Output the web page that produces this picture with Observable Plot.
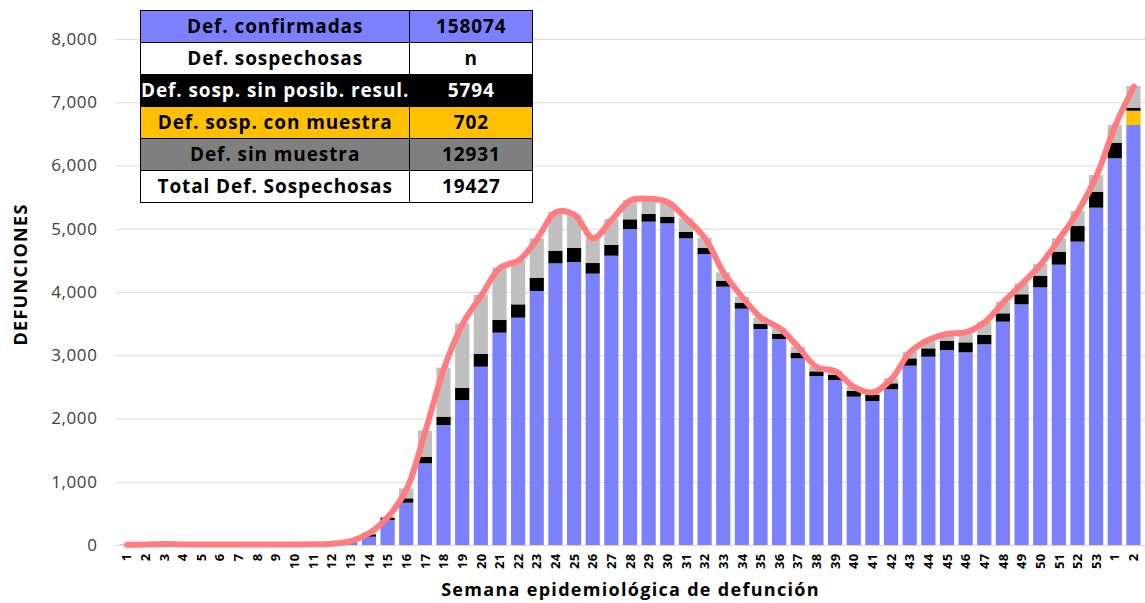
<!DOCTYPE html>
<html>
<head>
<meta charset="utf-8">
<script src="https://cdn.jsdelivr.net/npm/d3@7"></script>
<script src="https://cdn.jsdelivr.net/npm/@observablehq/plot@0.6"></script>
<style>
  html, body { margin: 0; padding: 0; background: #fff; }
  #wrap { position: relative; width: 1145px; height: 603px; font-family: "Open Sans", "DejaVu Sans", sans-serif; }
  #tbl { position: absolute; left: 140px; top: 10px; border-collapse: collapse; font-weight: 700; font-size: 19px; letter-spacing: 0.9px; }
  #tbl td { border: 1.5px solid #000; height: 31px; padding: 0; text-align: center; white-space: nowrap; line-height: 31px; overflow: visible; }
  #tbl td.l { width: 268px; }
  #tbl td.r { width: 122px; }
  g[aria-label="x-axis label"] text { letter-spacing: 1.3px; }
  g[aria-label="y-axis label"] text { letter-spacing: 1.3px; }
  g[aria-label="x-axis tick label"] text { letter-spacing: 0.3px; }
  g[aria-label="y-axis tick label"] text { letter-spacing: 0.6px; }
</style>
</head>
<body>
<div id="wrap"></div>
<script>
// ---- data ----
const weekLabels = ["1","2","3","4","5","6","7","8","9","10","11","12","13","14","15","16","17","18","19","20","21","22","23","24","25","26","27","28","29","30","31","32","33","34","35","36","37","38","39","40","41","42","43","44","45","46","47","48","49","50","51","52","53","1","2"];
const confirmadas = [5,8,12,8,8,8,10,10,10,10,12,18,50,131,395,669,1291,1897,2292,2819,3357,3594,4016,4453,4474,4290,4574,4996,5112,5086,4849,4601,4084,3736,3415,3257,2951,2672,2609,2345,2277,2462,2835,2977,3083,3046,3173,3531,3805,4074,4432,4796,5333,6114,6640];
const conMuestra = [0,0,0,0,0,0,0,0,0,0,0,0,0,0,0,0,0,0,0,0,0,0,0,0,0,0,0,0,0,0,0,0,0,0,0,0,0,0,0,0,0,0,0,0,0,0,0,0,0,0,0,0,0,0,226];
const sinPosibResul = [0,0,0,0,0,0,0,0,0,0,0,2,5,38,37,69,105,132,195,201,200,211,210,200,222,168,169,153,121,105,100,99,95,95,84,84,90,74,84,90,95,94,116,132,147,158,147,132,159,184,206,247,253,247,48];
const sinMuestra = [5,7,10,8,6,6,6,6,6,6,6,8,15,30,23,158,411,775,1018,933,833,701,623,617,530,400,411,306,248,237,216,158,132,95,101,95,95,73,58,68,50,79,105,143,117,169,211,184,173,185,211,238,264,279,343];

const seriesNames = ["Def. confirmadas", "Def. sosp. con muestra", "Def. sosp. sin posib. resul.", "Def. sin muestra"];
const seriesColors = ["#7b80fc", "#ffc000", "#000000", "#bfbfbf"];
const seriesValues = [confirmadas, conMuestra, sinPosibResul, sinMuestra];

const tableLabels = ["Def. confirmadas", "Def. sospechosas", "Def. sosp. sin posib. resul.", "Def. sosp. con  muestra", "Def. sin muestra", "Total Def. Sospechosas"];
const tableValues = ["158074", "n", "5794", "702", "12931", "19427"];
const tableColors = ["#7b80fc", "#ffffff", "#000000", "#ffc000", "#7f7f7f", "#ffffff"];
const tableText = ["#000", "#000", "#fff", "#000", "#000", "#000"];

const yLabel = "DEFUNCIONES";
const xLabel = "Semana epidemiológica de defunción";

// ---- build tidy rows ----
const rows = [];
weekLabels.forEach((w, i) => {
  seriesNames.forEach((s, k) => rows.push({i, serie: s, k, value: seriesValues[k][i]}));
});
const totals = weekLabels.map((w, i) => ({i, total: seriesValues.reduce((a, arr) => a + arr[i], 0)}));
const idx = weekLabels.map((w, i) => i);

const font = '"Open Sans", "DejaVu Sans", sans-serif';

const chart = Plot.plot({
  width: 1145,
  height: 603,
  marginLeft: 115,
  marginRight: 0,
  marginTop: 39,
  marginBottom: 58,
  style: {fontFamily: font, background: "transparent"},
  x: {domain: idx, padding: 0.24, label: null},
  y: {domain: [0, 8000], label: null},
  color: {domain: seriesNames, range: seriesColors},
  marks: [
    Plot.gridY([0,1000,2000,3000,4000,5000,6000,7000,8000], {stroke: "#d9d9d9", strokeOpacity: 1, strokeWidth: 1}),
    Plot.barY(rows, {x: "i", y: "value", fill: "serie", order: seriesNames, offset: null}),
    Plot.line(totals, {x: "i", y: "total", stroke: "#ff7c80", strokeWidth: 6, curve: "catmull-rom"}),
    Plot.axisY({ticks: [0,1000,2000,3000,4000,5000,6000,7000,8000], tickFormat: d3.format(","), tickSize: 0, tickPadding: 18, fontSize: 17, color: "#404040", label: yLabel, labelAnchor: "center", labelOffset: 101}),
    Plot.axisX({tickFormat: i => weekLabels[i], tickSize: 0, tickPadding: 8, tickRotate: -90, fontSize: 13, fontWeight: 700, label: xLabel, labelAnchor: "center", labelOffset: 50}),
  ]
});

// style axis labels (bold, size), drop arrow, nudge y label up
chart.querySelectorAll('g[aria-label="x-axis label"], g[aria-label="y-axis label"]').forEach(g => {
  g.setAttribute("font-size", "18");
  g.setAttribute("font-weight", "700");
  g.setAttribute("fill", "#000");
  g.style.fontSize = "18px";
  g.style.fontWeight = "700";
});
const yl = chart.querySelector('g[aria-label="y-axis label"]');
if (yl) {
  const t = yl.querySelector("text");
  if (t) t.textContent = yLabel;
  yl.setAttribute("transform", (yl.getAttribute("transform") || "") + " translate(0,-18)");
}

const wrap = document.getElementById("wrap");
wrap.appendChild(chart);

// table overlay
const tbl = document.createElement("table");
tbl.id = "tbl";
tableLabels.forEach((lab, r) => {
  const tr = document.createElement("tr");
  const a = document.createElement("td"); a.className = "l"; a.textContent = lab;
  const b = document.createElement("td"); b.className = "r"; b.textContent = tableValues[r];
  [a, b].forEach(td => { td.style.background = tableColors[r]; td.style.color = tableText[r]; });
  tr.appendChild(a); tr.appendChild(b);
  tbl.appendChild(tr);
});
wrap.appendChild(tbl);
</script>
</body>
</html>
